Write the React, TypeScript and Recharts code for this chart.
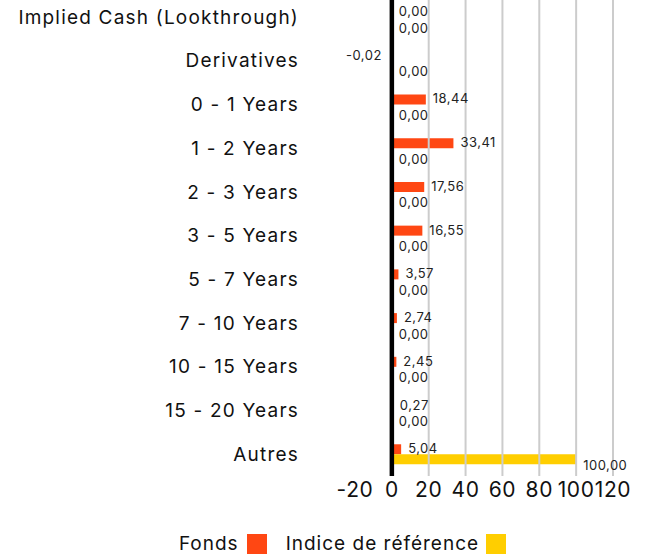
import { BarChart, Bar, XAxis, YAxis, ReferenceLine, LabelList } from 'recharts';

const categories = [
  'Implied Cash (Lookthrough)',
  'Derivatives',
  '0 - 1 Years',
  '1 - 2 Years',
  '2 - 3 Years',
  '3 - 5 Years',
  '5 - 7 Years',
  '7 - 10 Years',
  '10 - 15 Years',
  '15 - 20 Years',
  'Autres',
];
const fonds = [0, -0.02, 18.44, 33.41, 17.56, 16.55, 3.57, 2.74, 2.45, 0.27, 5.04];
const indice = [0, 0, 0, 0, 0, 0, 0, 0, 0, 0, 100];
const xTicks = [-20, 0, 20, 40, 60, 80, 100, 120];
const gridValues = [20, 40, 60, 80, 100, 120];

const FONDS_COLOR = '#FF4713';
const INDICE_COLOR = '#FFCE00';
const FONT = 'Inter, "Noto Sans", sans-serif';

const data = categories.map((name, i) => ({ name, fonds: fonds[i], indice: indice[i] }));

const fmt = (v: number) => v.toFixed(2).replace('.', ',');

// value label beside the bar end, nudged up/down per series
function makeLabel(dy: number) {
  return (props: any) => {
    const { x, y, width, height, value } = props;
    const v = Number(value);
    const neg = v < 0;
    const left = Math.min(x, x + width);
    const right = Math.max(x, x + width);
    // zero bars only get the 1px minPointSize, so start from the base
    const lx = neg ? left - 9 : (v === 0 ? left : right) + 7;
    return (
      <text
        x={lx}
        y={y + height / 2 + dy}
        textAnchor={neg ? 'end' : 'start'}
        dominantBaseline="central"
        fontSize={13}
        letterSpacing={0.5}
        fontFamily={FONT}
        fill="#222"
      >
        {fmt(v)}
      </text>
    );
  };
}

export default function App() {
  return (
    <div style={{ position: 'absolute', left: 0, top: 0, width: 645, height: 560, background: '#fff' }}>
      <BarChart
        width={645}
        height={560}
        data={data}
        layout="vertical"
        margin={{ top: -5, right: 32, left: 0, bottom: 54 }}
        barSize={10}
        barGap={0}
      >
        <XAxis
          type="number"
          domain={[-20, 120]}
          ticks={xTicks}
          axisLine={false}
          tickLine={false}
          tickSize={0}
          tickMargin={6}
          height={30}
          interval={0}
          tick={{ fontSize: 21, fontFamily: FONT, fill: '#111', letterSpacing: 0.6 }}
        />
        <YAxis
          type="category"
          dataKey="name"
          width={355}
          axisLine={false}
          tickLine={false}
          tickSize={0}
          tickMargin={56}
          interval={0}
          tick={{ fontSize: 19, fontFamily: FONT, fill: '#111', letterSpacing: 1.2 }}
        />
        {gridValues.map((v) => (
          <ReferenceLine key={v} x={v} stroke="#cccccc" strokeWidth={2} />
        ))}
        <Bar dataKey="fonds" fill={FONDS_COLOR} minPointSize={1} isAnimationActive={false}>
          <LabelList dataKey="fonds" content={makeLabel(-1)} />
        </Bar>
        <Bar dataKey="indice" fill={INDICE_COLOR} minPointSize={1} isAnimationActive={false}>
          <LabelList dataKey="indice" content={makeLabel(5.5)} />
        </Bar>
        <ReferenceLine x={0} stroke="#000" strokeWidth={4.5} />
      </BarChart>
      <div
        style={{
          position: 'absolute',
          top: 532,
          left: 20,
          width: 645,
          display: 'flex',
          justifyContent: 'center',
          alignItems: 'center',
          fontFamily: FONT,
          fontSize: 19,
          letterSpacing: 1,
          color: '#111',
        }}
      >
        <span>Fonds</span>
        <span style={{ width: 20, height: 20, background: FONDS_COLOR, marginLeft: 8, marginRight: 19 }} />
        <span>Indice de référence</span>
        <span style={{ width: 20, height: 20, background: INDICE_COLOR, marginLeft: 7 }} />
      </div>
    </div>
  );
}
